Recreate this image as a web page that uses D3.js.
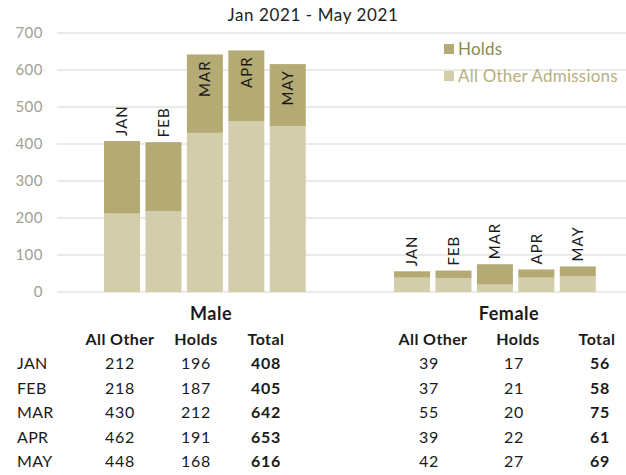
<!DOCTYPE html>
<html>
<head>
<meta charset="utf-8">
<script src="https://cdn.jsdelivr.net/npm/d3@7"></script>
<style>
  body { margin: 0; background: #fff; }
  svg { display: block; font-family: "Lato", "Noto Sans", sans-serif; }
</style>
</head>
<body>
<svg width="626" height="475"></svg>
<script>
const width = 626;
const height = 475;

const months = ["JAN", "FEB", "MAR", "APR", "MAY"];
const yTicks = [0, 100, 200, 300, 400, 500, 600, 700];

// bars as drawn in the chart
const maleOther = [212, 218, 430, 462, 448];
const maleHolds = [196, 187, 212, 191, 168];
const femaleOther = [39, 37, 20, 39, 42];
const femaleHolds = [17, 21, 55, 22, 27];

// table below the chart
const tMaleOther = [212, 218, 430, 462, 448];
const tMaleHolds = [196, 187, 212, 191, 168];
const tMaleTotal = [408, 405, 642, 653, 616];
const tFemaleOther = [39, 37, 55, 39, 42];
const tFemaleHolds = [17, 21, 20, 22, 27];
const tFemaleTotal = [56, 58, 75, 61, 69];

const holdsColor = "#b4aa73";
const otherColor = "#d2cdab";

const svg = d3.select("svg");

const slots = months.map(m => "M-" + m).concat(["gap1", "gap2"], months.map(m => "F-" + m));
const x = d3.scaleBand().domain(slots).range([101.3, 598.5]).paddingInner(0.131).paddingOuter(0.0655);
const y = d3.scaleLinear().domain([0, 700]).range([292, 33]);

// grid
svg.append("g")
    .selectAll("line")
    .data(yTicks)
    .join("line")
    .attr("x1", 57)
    .attr("x2", width)
    .attr("y1", d => y(d))
    .attr("y2", d => y(d))
    .attr("stroke", "#e4e4dd")
    .attr("stroke-width", 1.5);

svg.append("g")
    .selectAll("text")
    .data(yTicks)
    .join("text")
    .attr("x", 43)
    .attr("y", d => y(d))
    .attr("dy", "0.35em")
    .attr("text-anchor", "end")
    .attr("font-size", "15px")
    .attr("letter-spacing", "0.5px")
    .attr("fill", "#a09f93")
    .text(d => d);

// bars
const bars = [];
months.forEach((m, i) => {
    bars.push({ key: "M-" + m, month: m, other: maleOther[i], holds: maleHolds[i] });
});
months.forEach((m, i) => {
    bars.push({ key: "F-" + m, month: m, other: femaleOther[i], holds: femaleHolds[i] });
});

const g = svg.append("g");
g.selectAll("rect.other")
    .data(bars)
    .join("rect")
    .attr("class", "other")
    .attr("x", d => x(d.key))
    .attr("width", x.bandwidth())
    .attr("y", d => y(d.other))
    .attr("height", d => y(0) - y(d.other))
    .attr("fill", otherColor);

g.selectAll("rect.holds")
    .data(bars)
    .join("rect")
    .attr("class", "holds")
    .attr("x", d => x(d.key))
    .attr("width", x.bandwidth())
    .attr("y", d => y(d.other + d.holds))
    .attr("height", d => y(d.other) - y(d.other + d.holds))
    .attr("fill", holdsColor);

// month labels, rotated; inside the bar when it's tall
g.selectAll("text.month")
    .data(bars)
    .join("text")
    .attr("class", "month")
    .attr("transform", d => {
        const cx = x(d.key) + x.bandwidth() / 2;
        const total = d.other + d.holds;
        const ty = total > 600 ? y(total) + 6 : y(total) - 5;
        return `translate(${cx},${ty}) rotate(-90)`;
    })
    .attr("text-anchor", d => (d.other + d.holds > 600 ? "end" : "start"))
    .attr("dy", "0.35em")
    .attr("font-size", "15px")
    .attr("letter-spacing", "1px")
    .attr("fill", "#1a1a1a")
    .text(d => d.month);

// title
svg.append("text")
    .attr("x", 313)
    .attr("y", 21)
    .attr("text-anchor", "middle")
    .attr("font-size", "17px")
    .attr("letter-spacing", "0.6px")
    .attr("fill", "#222")
    .text("Jan 2021 - May 2021");

// legend
const legend = [
    { label: "Holds", color: holdsColor, text: "#8f8752", y: 49 },
    { label: "All Other Admissions", color: otherColor, text: "#b9af7f", y: 76 }
];
const lg = svg.append("g");
lg.selectAll("rect")
    .data(legend)
    .join("rect")
    .attr("x", 444)
    .attr("y", d => d.y - 5)
    .attr("width", 10)
    .attr("height", 10)
    .attr("fill", d => d.color);
lg.selectAll("text")
    .data(legend)
    .join("text")
    .attr("x", 458)
    .attr("y", d => d.y)
    .attr("dy", "0.35em")
    .attr("font-size", "17px")
    .attr("letter-spacing", "0.2px")
    .attr("fill", d => d.text)
    .text(d => d.label);

// tables
function table(title, titleX, cols, rowsData, showMonths) {
    const t = svg.append("g").attr("fill", "#1a1a1a");
    t.append("text")
        .attr("x", titleX)
        .attr("y", 320)
        .attr("text-anchor", "middle")
        .attr("font-size", "18px")
        .attr("font-weight", "bold")
        .attr("letter-spacing", "0.5px")
        .text(title);
    cols.forEach((c, ci) => {
        t.append("text")
            .attr("x", c.x)
            .attr("y", 345)
            .attr("text-anchor", "middle")
            .attr("font-size", "16px")
            .attr("font-weight", "bold")
            .attr("letter-spacing", "0.4px")
            .text(c.name);
        t.selectAll(null)
            .data(rowsData[ci])
            .join("text")
            .attr("x", c.vx)
            .attr("y", (d, i) => 369 + i * 24.5)
            .attr("text-anchor", "middle")
            .attr("font-size", "16px")
            .attr("letter-spacing", "0.8px")
            .attr("font-weight", ci === 2 ? "bold" : "normal")
            .text(d => d);
    });
    if (showMonths) {
        t.selectAll(null)
            .data(months)
            .join("text")
            .attr("x", 17)
            .attr("y", (d, i) => 369 + i * 24.5)
            .attr("font-size", "16px")
            .attr("letter-spacing", "0.3px")
            .text(d => d);
    }
}

table("Male", 211,
    [{ name: "All Other", x: 120, vx: 120 }, { name: "Holds", x: 196, vx: 196 }, { name: "Total", x: 266, vx: 266 }],
    [tMaleOther, tMaleHolds, tMaleTotal], true);

table("Female", 509,
    [{ name: "All Other", x: 433, vx: 429 }, { name: "Holds", x: 518, vx: 514 }, { name: "Total", x: 597, vx: 600 }],
    [tFemaleOther, tFemaleHolds, tFemaleTotal], false);
</script>
</body>
</html>
